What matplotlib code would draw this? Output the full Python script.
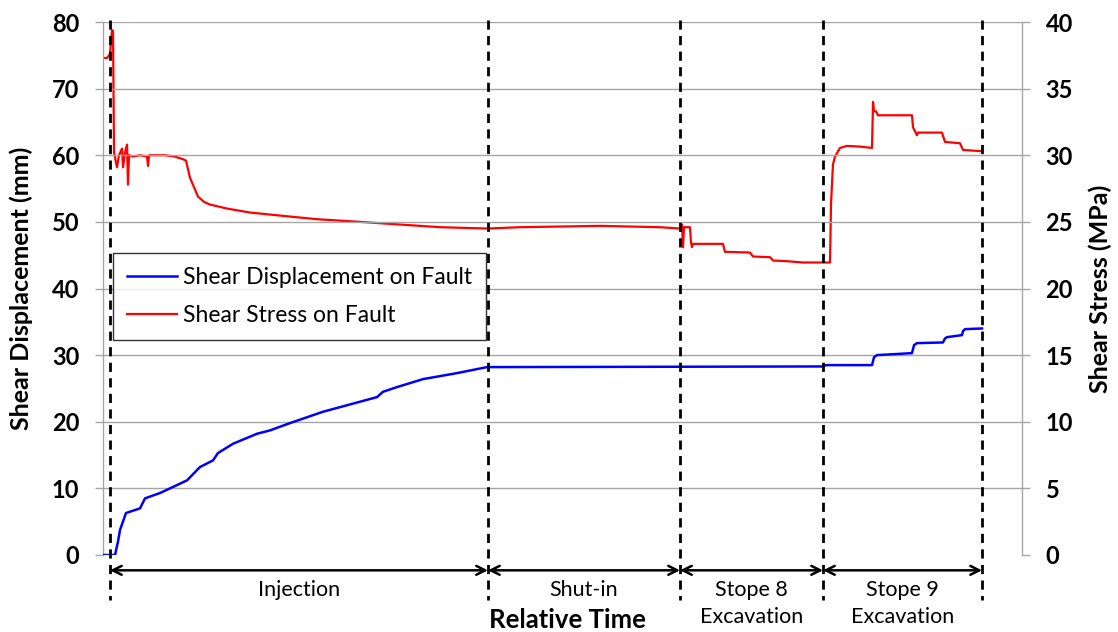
import matplotlib
matplotlib.use("Agg")
import matplotlib.pyplot as plt

plt.rcParams['font.family'] = ['Lato', 'DejaVu Sans']

# ---- data (relative time 0-100) ----
disp_t = [0.0, 1.09, 1.31, 1.63, 1.85, 2.50, 4.03, 4.57, 6.20, 7.29, 9.14, 10.55,
          11.97, 12.51, 14.15, 16.76, 18.17, 20.35, 23.94, 29.82, 30.47, 31.99,
          34.82, 38.52, 41.78, 78.35, 78.67, 83.68, 83.90, 84.22, 88.03, 88.25,
          88.57, 91.40, 91.62, 91.84, 93.47, 93.58, 93.80, 95.65]
disp_mm = [0.0, 0.0, 0.0, 2.0, 3.75, 6.3, 7.0, 8.5, 9.3, 10.0, 11.2, 13.2,
           14.2, 15.3, 16.7, 18.2, 18.7, 19.8, 21.5, 23.7, 24.5, 25.2,
           26.4, 27.3, 28.2, 28.3, 28.5, 28.5, 29.7, 30.0, 30.3, 31.5,
           31.8, 31.9, 32.5, 32.7, 33.0, 33.6, 33.9, 34.0]

stress_t = [0.00, 0.44, 0.76, 0.98, 1.09, 1.20, 1.52, 1.74, 2.07, 2.18, 2.39, 2.61,
            2.72, 2.83, 3.26, 4.03, 4.79, 4.90, 5.01, 5.88, 6.75, 7.83, 8.71, 9.03,
            9.47, 10.34, 10.99, 11.64, 13.49, 16.00, 19.59, 23.29, 27.97, 32.32,
            36.69, 41.89, 45.37, 54.08, 60.61, 62.79, 63.00, 63.11, 63.22, 63.87,
            63.98, 64.09, 64.20, 67.46, 67.68, 70.40, 70.73, 72.58, 72.91, 74.43,
            76.17, 79.11, 79.22, 79.43, 79.65, 80.20, 80.96, 82.37, 83.68, 83.79,
            83.90, 84.11, 84.33, 88.03, 88.14, 88.36, 88.57, 88.68, 91.29, 91.62,
            93.25, 93.58, 95.65]
stress_mpa = [37.3, 37.3, 37.6, 39.4, 39.3, 30.2, 29.1, 30.0, 30.5, 29.1, 30.2, 30.8,
              27.8, 30.0, 29.9, 30.0, 29.9, 29.2, 30.0, 30.0, 30.0, 29.9, 29.7, 29.6,
              28.3, 26.9, 26.5, 26.3, 26.0, 25.7, 25.45, 25.2, 25.0, 24.8,
              24.6, 24.5, 24.6, 24.7, 24.6, 24.5, 24.8, 23.1, 24.6, 24.6,
              23.5, 23.1, 23.35, 23.35, 22.75, 22.7, 22.4, 22.35, 22.1, 22.05,
              21.95, 21.95, 26.4, 29.3, 29.9, 30.55, 30.7, 30.65, 30.55, 34.0,
              33.3, 33.3, 33.0, 33.0, 32.1, 31.8, 31.5, 31.7, 31.7, 31.0,
              30.9, 30.4, 30.3]

phase_bounds = [0.76, 41.89, 62.79, 78.35, 95.65]
phase_labels = ["Injection", "Shut-in", "Stope 8\nExcavation", "Stope 9\nExcavation"]

left_ticks = [0, 10, 20, 30, 40, 50, 60, 70, 80]
right_ticks = [0, 5, 10, 15, 20, 25, 30, 35, 40]

# ---- figure ----
fig = plt.figure(figsize=(11.18, 6.32), dpi=100)
ax = fig.add_axes([103/1118, 1-555/632, 919/1118, 533/632])
ax2 = ax.twinx()

grid_c = '#a6a6a6'
ax.set_xlim(0, 100)
ax.set_ylim(0, 80)
ax2.set_ylim(0, 40)
for y in left_ticks[1:]:
    ax.axhline(y, color=grid_c, lw=1.0, zorder=0)

for a in (ax, ax2):
    for s in ('top', 'bottom'):
        a.spines[s].set_visible(False)
    a.spines['left'].set_color(grid_c)
    a.spines['right'].set_color(grid_c)
    a.spines['left'].set_linewidth(1.0)
    a.spines['right'].set_linewidth(1.0)
ax.spines['right'].set_visible(False)
ax2.spines['left'].set_visible(False)

ax.set_xticks([])
ax.set_yticks(left_ticks)
ax2.set_yticks(right_ticks)
ax.tick_params(axis='y', length=6, width=1, color=grid_c, pad=11, labelsize=17)
ax2.tick_params(axis='y', length=6, width=1, color=grid_c, pad=11, labelsize=17)
for lab in ax.get_yticklabels() + ax2.get_yticklabels():
    lab.set_fontweight('bold')

ax.set_ylabel("Shear Displacement (mm)", fontsize=18, fontweight='bold')
ax.yaxis.set_label_coords(-0.076, 0.5)
ax2.set_ylabel("Shear Stress (MPa)", fontsize=18, fontweight='bold')
ax2.yaxis.set_label_coords(1.072, 0.5)

l1, = ax.plot(disp_t, disp_mm, color='#0000ff', lw=1.8, zorder=3,
              label="Shear Displacement on Fault")
l2, = ax2.plot(stress_t, stress_mpa, color='#ff0000', lw=1.6, zorder=3,
               label="Shear Stress on Fault")
ax.set_zorder(ax2.get_zorder() + 1)
ax.patch.set_visible(False)

# dashed phase boundaries (extend below axis)
for xb in phase_bounds:
    ax.plot([xb, xb], [80.3, -6.8], color='black', lw=2.0,
            linestyle=(0, (3.3, 2.3)), clip_on=False, zorder=4)

# arrows and labels
y_arrow = -2.3
for i in range(len(phase_labels)):
    x0, x1 = phase_bounds[i], phase_bounds[i+1]
    ax.annotate("", xy=(x0, y_arrow), xytext=(x1, y_arrow),
                arrowprops=dict(arrowstyle='<->', lw=1.8, color='black',
                                shrinkA=0, shrinkB=0, mutation_scale=16),
                annotation_clip=False)
    ax.text((x0 + x1) / 2, -3.7, phase_labels[i], ha='center', va='top',
            fontsize=15.5, linespacing=1.45, clip_on=False)

ax.text(50.5, -9.8, "Relative Time", ha='center', va='center',
        fontsize=18.5, fontweight='bold', clip_on=False)

leg = fig.legend(handles=[l1, l2], loc='upper left',
                 bbox_to_anchor=(113/1118, 1-253/632),
                 bbox_transform=fig.transFigure, borderaxespad=0,
                 fontsize=16.5, frameon=True, fancybox=False,
                 handlelength=2.2, handletextpad=0.25, labelspacing=0.75,
                 borderpad=0.6)
leg.get_frame().set_edgecolor('black')
leg.get_frame().set_linewidth(1.0)
leg.set_zorder(10)

fig.savefig("out.png", dpi=100)
